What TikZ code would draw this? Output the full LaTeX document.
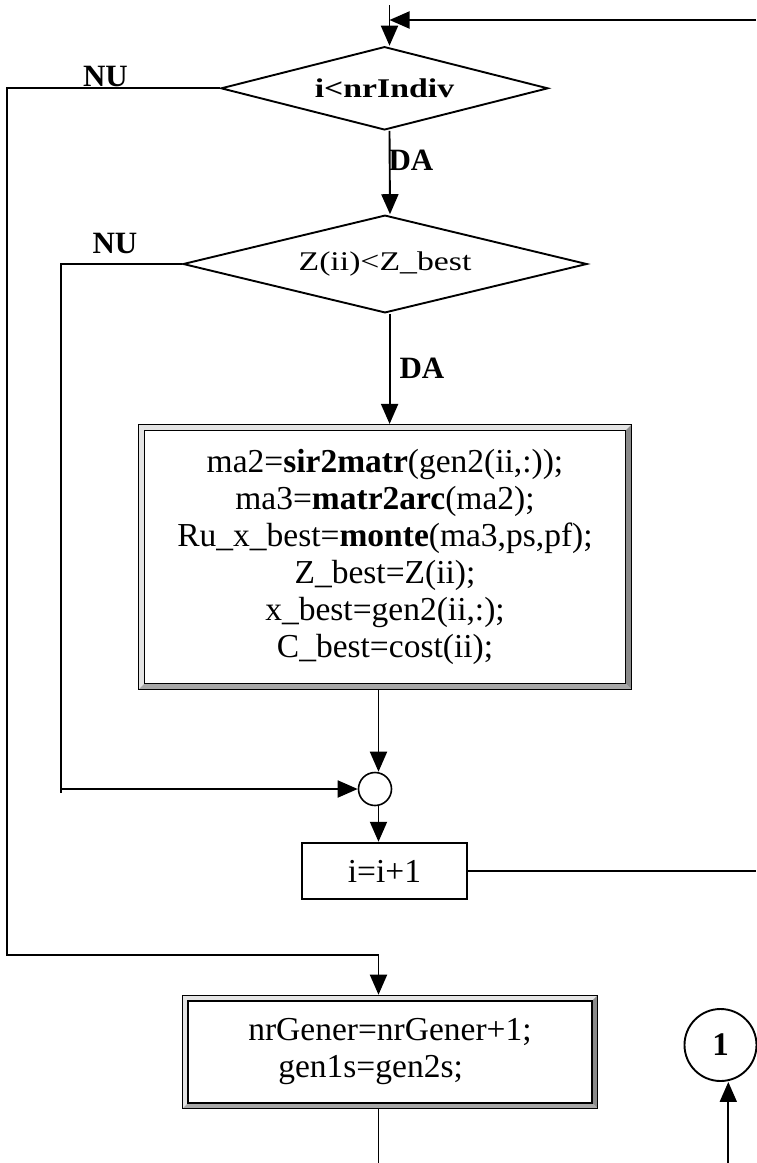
\documentclass[tikz,border=0pt]{standalone}
\usepackage{fontspec}
\setmainfont{Liberation Serif}
\newfontfamily\diafont[FakeStretch=1.25]{Liberation Serif}
\usetikzlibrary{arrows.meta,positioning,calc,shapes.geometric}
\definecolor{bevellight}{HTML}{E4E4E4}
\definecolor{beveldark}{HTML}{8A8A8A}
\definecolor{bevelmid}{HTML}{A8A8A8}
\tikzset{
  flowline/.style={line width=1.9pt},
  arrow/.style={-{Triangle[length=20pt,width=17pt]},line width=1.9pt},
  decision/.style={diamond,draw,line width=1.9pt,inner sep=0pt,font=\diafont\fontsize{27}{30}\selectfont},
  yesno/.style={inner sep=0pt,font=\bfseries\fontsize{31}{34}\selectfont},
  stepbox/.style={rectangle,draw,line width=1.9pt,inner sep=0pt,font=\fontsize{33.5}{37}\selectfont},
  junction/.style={circle,draw,line width=1.6pt,inner sep=0pt},
  bevelbox/.style={rectangle,draw,line width=1.1pt,fill=white,inner sep=0pt,align=center,font=\fontsize{33.5}{37}\selectfont,
    path picture={
      \path (path picture bounding box.north west) coordinate (pnw)
            (path picture bounding box.south east) coordinate (pse)
            (pnw -| pse) coordinate (pne)
            (pnw |- pse) coordinate (psw)
            ([shift={(6pt,-6pt)}]pnw) coordinate (qnw)
            ([shift={(-6pt,-6pt)}]pne) coordinate (qne)
            ([shift={(-6pt,6pt)}]pse) coordinate (qse)
            ([shift={(6pt,6pt)}]psw) coordinate (qsw);
      \fill[bevellight] (pnw) -- (pne) -- (qne) -- (qnw) -- cycle;
      \fill[bevellight] (pnw) -- (qnw) -- (qsw) -- (psw) -- cycle;
      \fill[beveldark] (pne) -- (pse) -- (qse) -- (qne) -- cycle;
      \fill[bevelmid] (psw) -- (qsw) -- (qse) -- (pse) -- cycle;
      \draw[line width=1.9pt] (qnw) rectangle (qse);
    }}
}

\begin{document}
\begin{tikzpicture}[x=1pt,y=-1pt]
  \useasboundingbox (0,0) rectangle (756,1163);

  \node[decision,aspect=3.93,minimum width=327pt,minimum height=83.3pt] (cond1) at (384.5,88.3) {\bfseries i\textless nrIndiv};
  \node[decision,aspect=4.13,minimum width=404pt,minimum height=97.7pt] (cond2) at (385,264) {Z(ii)\textless Z\_best};
  \node[bevelbox,minimum width=493pt,minimum height=265pt] (update) at (385,557)
    {ma2=\textbf{sir2matr}(gen2(ii,:));\\ma3=\textbf{matr2arc}(ma2);\\Ru\_x\_best=\textbf{monte}(ma3,ps,pf);\\Z\_best=Z(ii);\\x\_best=gen2(ii,:);\\C\_best=cost(ii);};
  \node[junction,minimum size=33pt] (join) at (375,789) {};
  \node[stepbox,minimum width=165.6pt,minimum height=56.6pt] (incr) at (384.5,871) {i=i+1};
  \node[bevelbox,align=left,minimum width=415.3pt,minimum height=113.5pt] (nextgen) at (390,1052)
    {nrGener=nrGener+1;\\\hspace*{30pt}gen1s=gen2s;};
  \node[junction,line width=1.9pt,minimum size=72pt,font=\bfseries\fontsize{33}{36}\selectfont] (conn1) at (720.5,1045) {1};

  \node[yesno] (no1) at (105.5,76.7) {NU};
  \node[yesno] (no2) at (115,243.3) {NU};
  \node[yesno] (yes1) at (411,160) {DA};
  \node[yesno] (yes2) at (422,368.3) {DA};

  \coordinate (entry) at (389.5,5);
  \coordinate (loopin) at (756,20);
  \coordinate (loopout) at (756,871);
  \coordinate (outerL) at (7.3,955);
  \coordinate (innerL) at (61,793);
  \coordinate (exitB) at (378.5,1163);
  \coordinate (connB) at (728.3,1163);

  \draw[arrow] (entry) -- (entry |- cond1.north);
  \draw[arrow] (loopin) -- (loopin -| entry);
  \draw[arrow] ([xshift=5pt]cond1.south) -- ([xshift=5pt]cond2.north);
  \draw[arrow] ([xshift=4.6pt]cond2.south) -- ([xshift=4.6pt]update.north);
  \draw[arrow] ([xshift=-6.5pt]update.south) -- ([xshift=-6.5pt]update.south |- join.north);
  \draw[arrow] ([xshift=3.5pt]join.south) -- ([xshift=3.5pt]join.south |- incr.north);
  \draw[flowline] (incr.east) -- (loopout);
  \draw[flowline] (cond2.west) -| (innerL);
  \draw[arrow] (join.west -| innerL) -- (join.west);
  \draw[arrow] (cond1.west) -| (outerL) -| (exitB |- nextgen.north);
  \draw[flowline] (nextgen.south -| exitB) -- (exitB);
  \draw[arrow] (connB) -- (connB |- conn1.south);
\end{tikzpicture}
\end{document}
